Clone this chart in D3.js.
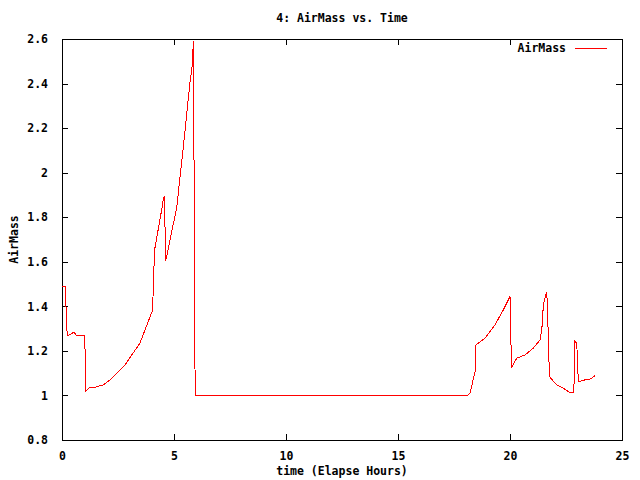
<!DOCTYPE html>
<html>
<head>
<meta charset="utf-8">
<script src="https://cdn.jsdelivr.net/npm/d3@7"></script>
<style>
  body { margin: 0; background: #fff; }
  svg text { font-family: "DejaVu Sans Mono", monospace; font-size: 11.5px; font-weight: bold; fill: #000; }
</style>
</head>
<body>
<div id="chart"></div>
<script>
/* 4: AirMass vs. Time */

const hours = [0, 0.15, 0.17, 0.2, 0.24, 0.54, 0.65, 1.01, 1.03, 1.05, 1.07, 1.25, 1.4, 1.84, 2.14, 2.81, 3.48, 4.05, 4.08, 4.14,
    4.45, 4.52, 4.57, 4.63, 5.12, 5.42, 5.71, 5.83, 5.86, 5.89, 5.91, 5.95,
    18.09, 18.21, 18.29, 18.33, 18.44, 18.48, 18.59, 18.88, 19.33, 19.70, 20.0, 20.03, 20.07, 20.30, 20.67, 21.04, 21.34,
    21.42, 21.49, 21.64, 21.68, 21.76, 22.08, 22.38, 22.68, 22.83, 22.87, 22.90, 22.98, 23.05, 23.35, 23.57, 23.79];

const airMass = [1.489, 1.489, 1.43, 1.324, 1.267, 1.284, 1.267, 1.267, 1.20, 1.085, 1.02, 1.037, 1.035, 1.047, 1.07, 1.137, 1.235, 1.384, 1.52, 1.657,
    1.834, 1.879, 1.897, 1.604, 1.843, 2.118, 2.403, 2.493, 2.59, 2.19, 1.399, 1.0,
    1.0, 1.01, 1.04, 1.062, 1.107, 1.227, 1.235, 1.257, 1.317, 1.384, 1.444, 1.287, 1.127, 1.167, 1.182, 1.212, 1.249,
    1.294, 1.407, 1.466, 1.369, 1.085, 1.047, 1.032, 1.013, 1.013, 1.07, 1.242, 1.235, 1.062, 1.07, 1.073, 1.088];

const xTicks = [0, 5, 10, 15, 20, 25];
const yTicks = [0.8, 1, 1.2, 1.4, 1.6, 1.8, 2, 2.2, 2.4, 2.6];

const width = 640,
    height = 480,
    margin = ({ top: 39, right: 18, bottom: 40, left: 62 });

const svg = d3.select("#chart")
    .append("svg")
    .attr("width", width)
    .attr("height", height);

let x = d3.scaleLinear()
    .domain([0, 25])
    .range([margin.left, width - margin.right]);

let y = d3.scaleLinear()
    .domain([0.8, 2.6])
    .range([height - margin.bottom, margin.top]);

// bottom + top ticks (gnuplot mirrors them)
svg.append("g")
    .attr("transform", `translate(0,${height - margin.bottom})`)
    .call(d3.axisBottom(x).tickValues(xTicks).tickSize(-6).tickPadding(12).tickFormat(d => d))
    .call(g => g.select(".domain").remove());

svg.append("g")
    .attr("transform", `translate(0,${margin.top})`)
    .call(d3.axisTop(x).tickValues(xTicks).tickSize(-6).tickFormat(""))
    .call(g => g.select(".domain").remove());

svg.append("g")
    .attr("transform", `translate(${margin.left},0)`)
    .call(d3.axisLeft(y).tickValues(yTicks).tickSize(-6).tickPadding(14).tickFormat(d => d))
    .call(g => g.select(".domain").remove());

svg.append("g")
    .attr("transform", `translate(${width - margin.right},0)`)
    .call(d3.axisRight(y).tickValues(yTicks).tickSize(-6).tickFormat(""))
    .call(g => g.select(".domain").remove());

svg.selectAll(".tick line").attr("stroke", "#000").attr("shape-rendering", "crispEdges");
svg.selectAll(".tick text").attr("fill", "#000");

// plot border
svg.append("rect")
    .attr("x", margin.left)
    .attr("y", margin.top)
    .attr("width", width - margin.left - margin.right)
    .attr("height", height - margin.top - margin.bottom)
    .attr("fill", "none")
    .attr("stroke", "#000")
    .attr("shape-rendering", "crispEdges");

let line = d3.line()
    .x((d, i) => x(hours[i]))
    .y(d => y(d));

svg.append("path")             // the AirMass series
    .datum(airMass)
    .attr("d", line)
    .attr("fill", "none")
    .attr("stroke", "#ff0000")
    .attr("stroke-width", 1)
    .attr("shape-rendering", "crispEdges");

// title
svg.append("text")
    .attr("x", (margin.left + width - margin.right) / 2)
    .attr("y", 22)
    .attr("text-anchor", "middle")
    .text("4: AirMass vs. Time");

// x label
svg.append("text")
    .attr("x", (margin.left + width - margin.right) / 2)
    .attr("y", 475)
    .attr("text-anchor", "middle")
    .text("time (Elapse Hours)");

// y label
svg.append("text")
    .attr("transform", `translate(18,${(margin.top + height - margin.bottom) / 2}) rotate(-90)`)
    .attr("text-anchor", "middle")
    .text("AirMass");

// legend
svg.append("text")
    .attr("x", 566)
    .attr("y", 52)
    .attr("text-anchor", "end")
    .text("AirMass");

svg.append("line")
    .attr("x1", 575)
    .attr("x2", 607)
    .attr("y1", 48)
    .attr("y2", 48)
    .attr("stroke", "#ff0000")
    .attr("shape-rendering", "crispEdges");
</script>
</body>
</html>
